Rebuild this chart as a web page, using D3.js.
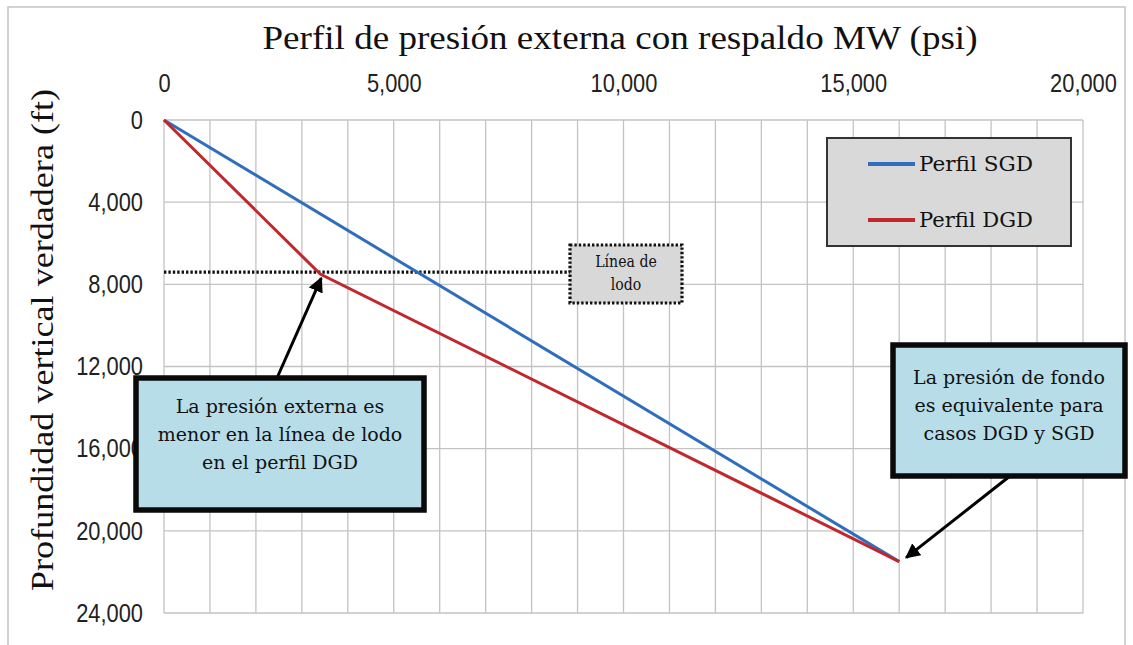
<!DOCTYPE html>
<html>
<head>
<meta charset="utf-8">
<script src="https://cdn.jsdelivr.net/npm/d3@7"></script>
<style>
  html, body { margin: 0; padding: 0; background: #fff; }
  svg { display: block; }
</style>
</head>
<body>
<svg id="chart" width="1133" height="645"></svg>
<script>
// ---------- data ----------
const seriesNames = ["Perfil SGD", "Perfil DGD"];
const pressureSGD = [0, 16000];          // psi
const depthSGD    = [0, 21500];          // ft
const pressureDGD = [0, 3400, 16000];    // psi
const depthDGD    = [0, 7500, 21500];    // ft
const mudlineDepth = 7500;               // ft
const xTickValues = [0, 5000, 10000, 15000, 20000];
const yTickValues = [0, 4000, 8000, 12000, 16000, 20000, 24000];
const xGridValues = d3.range(0, 20001, 1000);
const titleText = "Perfil de presión externa con respaldo MW (psi)";
const yAxisTitle = "Profundidad vertical verdadera (ft)";
const mudlineLabel = ["Línea de", "lodo"];
const noteLeft = ["La presión externa es", "menor en la línea de lodo", "en el perfil DGD"];
const noteRight = ["La presión de fondo", "es equivalente para", "casos DGD y SGD"];

// ---------- setup ----------
const svg = d3.select("#chart");
const colors = { sgd: "#2f6ebd", dgd: "#c0282e" };
const x = d3.scaleLinear().domain([0, 20000]).range([164, 1083]);
const y = d3.scaleLinear().domain([0, 24000]).range([120, 613]);

function condense(sel, k) {
  sel.each(function () {
    const w = this.getComputedTextLength();
    d3.select(this).attr("textLength", w * k).attr("lengthAdjust", "spacingAndGlyphs");
  });
}

const defs = svg.append("defs");
defs.append("marker")
  .attr("id", "arrow")
  .attr("viewBox", "0 0 10 10")
  .attr("refX", 9).attr("refY", 5)
  .attr("markerWidth", 5).attr("markerHeight", 5)
  .attr("markerUnits", "strokeWidth")
  .attr("orient", "auto")
  .append("path").attr("d", "M0,0 L10,5 L0,10 Z").attr("fill", "#000");

// outer frame
svg.append("rect").attr("x", 8).attr("y", 7).attr("width", 1117).attr("height", 660)
  .attr("fill", "none").attr("stroke", "#c4c4c4").attr("stroke-width", 1.5);

// title
svg.append("text")
  .attr("x", 620).attr("y", 49)
  .attr("text-anchor", "middle")
  .attr("font-family", "'Liberation Serif', serif")
  .attr("font-size", 34)
  .attr("fill", "#111")
  .attr("textLength", 715).attr("lengthAdjust", "spacingAndGlyphs")
  .text(titleText);

// y axis title
svg.append("text")
  .attr("transform", "translate(53,340) rotate(-90)")
  .attr("text-anchor", "middle")
  .attr("font-family", "'Liberation Serif', serif")
  .attr("font-size", 31)
  .attr("fill", "#111")
  .attr("textLength", 502).attr("lengthAdjust", "spacingAndGlyphs")
  .text(yAxisTitle);

// grid
const grid = svg.append("g").attr("stroke", "#c3c3c3").attr("stroke-width", 1.3);
grid.selectAll("line.v").data(xGridValues).join("line")
  .attr("x1", d => x(d)).attr("x2", d => x(d))
  .attr("y1", y(0)).attr("y2", y(24000));
grid.selectAll("line.h").data(yTickValues).join("line")
  .attr("x1", x(0)).attr("x2", x(20000))
  .attr("y1", d => y(d)).attr("y2", d => y(d));

// axes
const fmt = d3.format(",");
const xAxis = svg.append("g").attr("transform", `translate(0,${y(0)})`)
  .call(d3.axisTop(x).tickValues(xTickValues).tickFormat(fmt).tickSize(0).tickPadding(28));
const yAxis = svg.append("g").attr("transform", `translate(${x(0)},0)`)
  .call(d3.axisLeft(y).tickValues(yTickValues).tickFormat(fmt).tickSize(0).tickPadding(21));
[xAxis, yAxis].forEach(g => {
  g.select(".domain").remove();
  g.selectAll("text")
    .attr("font-family", "'Liberation Sans', sans-serif")
    .attr("font-size", 26)
    .attr("fill", "#222")
    .call(condense, 0.84);
});

// mudline
const mudBox = { x0: 570, x1: 682, y0: 245, y1: 303 };
svg.append("line")
  .attr("x1", x(0)).attr("x2", mudBox.x0)
  .attr("y1", y(mudlineDepth) - 2).attr("y2", y(mudlineDepth) - 2)
  .attr("stroke", "#111").attr("stroke-width", 3.2).attr("stroke-dasharray", "2.4,2");

// series lines
const line = d3.line().x(d => x(d[0])).y(d => y(d[1]));
const sgdPts = pressureSGD.map((p, i) => [p, depthSGD[i]]);
const dgdPts = pressureDGD.map((p, i) => [p, depthDGD[i]]);
svg.append("path").datum(sgdPts).attr("d", line)
  .attr("fill", "none").attr("stroke", colors.sgd).attr("stroke-width", 3);
svg.append("path").datum(dgdPts).attr("d", line)
  .attr("fill", "none").attr("stroke", colors.dgd).attr("stroke-width", 3);

// mudline label box
svg.append("rect")
  .attr("x", mudBox.x0).attr("y", mudBox.y0)
  .attr("width", mudBox.x1 - mudBox.x0).attr("height", mudBox.y1 - mudBox.y0)
  .attr("fill", "#d8d8d8").attr("stroke", "#111").attr("stroke-width", 3.2)
  .attr("stroke-dasharray", "2.4,2");
svg.append("g").selectAll("text").data(mudlineLabel).join("text")
  .attr("x", (mudBox.x0 + mudBox.x1) / 2)
  .attr("y", (d, i) => 267 + i * 23)
  .attr("text-anchor", "middle")
  .attr("font-family", "'DejaVu Serif', serif")
  .attr("font-size", 16)
  .attr("fill", "#111")
  .text(d => d)
  .call(condense, 0.88);

// legend
const legend = svg.append("g");
legend.append("rect").attr("x", 827).attr("y", 138).attr("width", 244).attr("height", 108)
  .attr("fill", "#d9d9d9").attr("stroke", "#333").attr("stroke-width", 2);
const legendRows = [
  { name: seriesNames[0], color: colors.sgd, cy: 164 },
  { name: seriesNames[1], color: colors.dgd, cy: 220 }
];
legend.selectAll("line").data(legendRows).join("line")
  .attr("x1", 868).attr("x2", 915)
  .attr("y1", d => d.cy).attr("y2", d => d.cy)
  .attr("stroke", d => d.color).attr("stroke-width", 4);
legend.selectAll("text").data(legendRows).join("text")
  .attr("x", 919).attr("y", d => d.cy + 7)
  .attr("font-family", "'DejaVu Serif', serif")
  .attr("font-size", 21)
  .attr("fill", "#111")
  .attr("textLength", 114).attr("lengthAdjust", "spacingAndGlyphs")
  .text(d => d.name);

// annotation boxes
function noteBox(box, lines, lineY) {
  const g = svg.append("g");
  g.append("rect")
    .attr("x", box.x0).attr("y", box.y0)
    .attr("width", box.x1 - box.x0).attr("height", box.y1 - box.y0)
    .attr("fill", "#b7dde8").attr("stroke", "#0a0a0a").attr("stroke-width", 5.5);
  g.selectAll("text").data(lines).join("text")
    .attr("x", (box.x0 + box.x1) / 2)
    .attr("y", (d, i) => lineY[i])
    .attr("text-anchor", "middle")
    .attr("font-family", "'DejaVu Serif', serif")
    .attr("font-size", 19)
    .attr("fill", "#111")
    .text(d => d);
}
const leftBox = { x0: 136, x1: 424, y0: 378, y1: 510 };
const rightBox = { x0: 893, x1: 1125, y0: 345, y1: 476 };

// arrows
svg.append("line")
  .attr("x1", 277).attr("y1", leftBox.y0)
  .attr("x2", x(pressureDGD[1]) + 1).attr("y2", y(depthDGD[1]) + 4)
  .attr("stroke", "#000").attr("stroke-width", 3)
  .attr("marker-end", "url(#arrow)");
svg.append("line")
  .attr("x1", 1010).attr("y1", rightBox.y1)
  .attr("x2", x(pressureSGD[1]) + 7).attr("y2", y(depthSGD[1]) - 4)
  .attr("stroke", "#000").attr("stroke-width", 3)
  .attr("marker-end", "url(#arrow)");

noteBox(leftBox, noteLeft, [413, 441, 469]);
noteBox(rightBox, noteRight, [384, 412, 440]);
</script>
</body>
</html>
